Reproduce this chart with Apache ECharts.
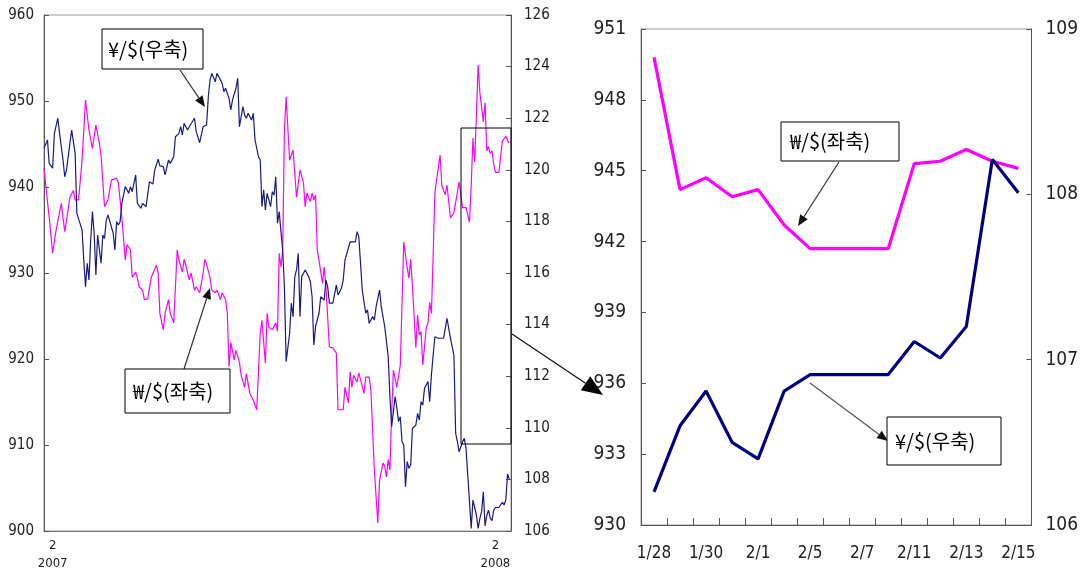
<!DOCTYPE html>
<html>
<head>
<meta charset="utf-8">
<script src="https://cdn.jsdelivr.net/npm/echarts@6/dist/echarts.min.js"></script>
<style>html,body{margin:0;padding:0;background:#fff}#c{width:1081px;height:573px}</style>
</head>
<body>
<div id="c"></div>
<script>
// ---------- Left panel: daily series Feb 2007 - mid Feb 2008 (trading-day index) ----------
const longTickDays = [5, 261];
const longTickLabels = ['2\n2007', '2\n2008'];

const krwDays = [0,2,3,5,7,8,10,11,12,13,15,17,18,20,22,24,26,27,28,30,32,33,35,37,39,42,43,45,47,48,50,51,53,54,55,57,58,60,62,63,65,66,67,69,70,72,73,75,77,78,80,81,82,84,85,87,88,90,92,93,94,96,97,99,100,102,103,105,106,107,108,110,111,113,114,116,117,119,121,123,125,126,128,129,130,132,134,135,136,137,138,139,140,142,144,145,146,148,150,151,152,154,155,156,157,158,159,161,162,163,165,167,169,170,173,174,175,176,177,178,179,181,182,183,185,186,188,189,191,192,193,194,196,197,198,199,200,201,202,204,206,208,210,211,212,213,215,216,217,218,219,221,222,223,224,225,226,227,229,230,231,232,233,235,236,237,238,240,241,242,244,246,247,248,249,250,251,252,254];
const krwValues = [942.2,938.3,936.5,932.3,935,934.8,938.1,938.3,934.8,935,938.8,939.6,938.5,938.5,943.1,950.1,946.6,946.4,944.5,947.2,945.1,943.7,937.7,938.5,940.8,941,940.5,936.5,931.5,933.3,932.7,929.5,930.1,929.4,928.4,928,926.9,927,929.5,929.5,930.9,930,925.3,923.4,925.3,926.9,925.3,924.2,932.7,931.5,930.1,931.6,930.9,929.2,930,928,928.4,927.7,930,931.6,931,929.5,928,927.7,928,926.9,927.7,926.9,925.3,919.1,921.9,919.9,921,919.6,918.1,916.7,918.3,916,915.2,914.1,923,924.5,919.5,925.3,923.7,923.4,924.2,923.2,932.3,930.7,932.7,946.6,950.5,943.1,944.3,941.6,938.8,942,940.5,937.7,939.3,938.3,939.3,938.5,939.1,932.7,931.5,928.8,930.7,928.4,921.4,921.3,920.7,914.1,914.1,916.7,916.9,914.9,918.5,916.7,918.1,917.3,918.4,917.6,916,917.9,917.9,916.4,907.1,907.1,900.9,905.9,907.9,907.5,906.3,908.3,907.1,913.7,918.7,916.7,919.3,933.6,930.6,929.4,931.6,928.6,921.3,925.1,922.8,923.2,919.3,923.6,924.2,926.6,925.3,932.1,939.4,939.4,943.7,940.2,939.6,939.1,940.2,936.4,936.4,937,937.1,940.6,939.1,937.6,937.6,935.9,940.2,945.7,942.9,948.4,954.2,951,947.6];

const jpyDays = [0,2,3,5,6,8,9,11,12,13,15,16,17,18,19,20,22,23,24,25,26,27,28,29,30,31,32,33,34,35,36,37,38,40,41,42,43,44,45,46,47,49,50,51,53,54,56,57,59,61,63,64,66,67,69,70,72,73,75,76,78,79,80,81,83,84,85,87,88,90,91,92,94,95,96,97,99,100,101,103,104,105,107,108,109,111,112,113,115,116,117,118,120,121,122,124,125,126,127,128,129,131,132,133,134,135,136,137,138,139,140,142,143,144,145,146,147,148,149,151,153,154,155,156,157,159,160,162,163,164,165,166,167,169,170,172,173,174,175,177,178,180,181,182,183,184,186,187,188,190,191,192,194,195,196,197,199,200,201,203,204,205,206,207,208,209,210,211,212,213,215,216,217,218,219,220,222,223,224,225,226,228,229,231,232,233,234,235,236,237,238,239,240,242,243,244,245,246,247,248,249,250,251,252,253,254];
const jpyValues = [120.83,121.16,120.25,120.06,121.41,122.0,121.41,120.38,119.73,119.99,121.03,121.54,121.48,120.64,118.31,118.25,117.67,116.5,115.47,116.38,115.73,117.28,118.38,117.54,115.92,117.47,117.41,116.38,117.47,117.34,118.05,118.25,118.18,117.54,116.89,117.99,117.86,117.99,118.7,118.7,119.35,119.09,119.35,119.15,119.8,118.7,118.51,118.7,118.57,119.54,119.45,119.99,120.41,120.15,120.12,119.8,120.38,120.25,120.51,121.28,121.41,121.67,121.35,121.8,121.54,121.67,121.61,122.0,121.48,121.05,121.09,121.67,121.74,122.83,123.48,123.74,123.41,123.74,123.8,123.35,123.03,123.16,122.77,122.32,122.71,123.16,123.55,121.67,122.45,122.12,122.0,122.19,121.93,122.19,121.16,120.51,120.38,118.57,119.22,118.44,119.09,118.57,119.15,119.02,119.73,117.93,118.38,117.6,116.89,115.47,112.56,113.66,114.83,114.31,115.86,116.12,116.76,114.31,115.86,116.12,115.86,115.66,115.08,113.21,113.92,114.44,115.08,114.95,115.73,115.47,114.83,114.83,114.83,115.53,115.15,115.41,115.73,116.5,116.57,117.21,117.28,117.21,117.6,117.41,116.38,115.34,114.44,114.57,114.05,114.31,114.18,114.69,115.34,114.69,114.69,113.92,112.76,111.21,110.04,111.21,110.77,110.24,110.43,109.46,109.33,107.72,108.69,108.43,108.56,109.98,110.11,110.56,110.3,111.01,110.88,111.53,111.79,111.01,112.05,112.82,113.53,113.47,113.53,113.47,113.47,114.24,114.24,113.47,113.47,112.82,109.79,109.46,109.07,109.46,109.59,109.2,108.17,107.14,106.1,107.2,107.27,106.62,106.1,106.49,106.75,107.52];

// ---------- Right panel: 2008-01-28 .. 2008-02-15 ----------
const zoomStartDay = 255;
const zoomDates = ['1/28','1/29','1/30','1/31','2/1','2/4','2/5','2/6','2/7','2/8','2/11','2/12','2/13','2/14','2/15'];
const zoomKrw = [949.8,944.2,944.7,943.9,944.2,942.7,941.7,941.7,941.7,941.7,945.3,945.4,945.9,945.4,945.1];
const zoomJpy = [106.2,106.6,106.81,106.5,106.4,106.81,106.91,106.91,106.91,106.91,107.11,107.01,107.2,108.21,108.01];

const krwLabel = '\u20A9/$(좌축)';
const jpyLabel = '\u00A5/$(우축)';

// ---------- build ----------
const krwLong = krwDays.map((d, i) => [d, krwValues[i]])
  .concat(zoomKrw.map((v, i) => [zoomStartDay + i, v]));
const jpyLong = jpyDays.map((d, i) => [d, jpyValues[i]])
  .concat(zoomJpy.map((v, i) => [zoomStartDay + i, v]));

const NUM_FONT = "'Liberation Sans Narrow','DejaVu Sans Condensed','Arial Narrow','Liberation Sans',sans-serif";
const KR_FONT = "'Noto Sans CJK KR','Noto Sans',sans-serif";
const AX = '#555';
const TXT = '#222';

function yAx(grid, pos, min, max, interval, fs, margin) {
  return {
    type: 'value', gridIndex: grid, position: pos, min: min, max: max, interval: interval,
    axisLine: { show: true, lineStyle: { color: AX, width: 1 } },
    axisTick: { show: true, inside: true, length: 5, lineStyle: { color: AX } },
    splitLine: { show: false },
    axisLabel: { fontSize: fs, margin: margin, color: TXT, fontFamily: NUM_FONT }
  };
}

function arrow(x1, y1, x2, y2, len, w, lineColor, headColor) {
  const a = Math.atan2(y2 - y1, x2 - x1);
  const bx = x2 - len * Math.cos(a), by = y2 - len * Math.sin(a);
  const px = -Math.sin(a) * w / 2, py = Math.cos(a) * w / 2;
  return [
    { type: 'line', z: 100, shape: { x1: x1, y1: y1, x2: bx, y2: by }, style: { stroke: lineColor, lineWidth: 1.2 } },
    { type: 'polygon', z: 100, shape: { points: [[x2, y2], [bx + px, by + py], [bx - px, by - py]] }, style: { fill: headColor } }
  ];
}

function labelBox(x, y, w, h, tx, text) {
  return [
    { type: 'rect', z: 100, shape: { x: x, y: y, width: w, height: h }, style: { fill: '#fff', stroke: '#000', lineWidth: 1 } },
    { type: 'text', z: 101, x: tx, y: y + h / 2, style: { text: text, fill: '#000', font: '20px ' + KR_FONT, textVerticalAlign: 'middle', textAlign: 'left' } }
  ];
}

const graphics = [].concat(
  arrow(180, 70, 205, 107, 11, 9, '#333', '#111'),
  labelBox(102, 29, 101, 40, 108, jpyLabel),
  arrow(184, 369, 210, 288, 11, 9, '#333', '#111'),
  labelBox(125, 369, 105, 44, 133, krwLabel),
  [{ type: 'rect', z: 100, shape: { x: 461, y: 128, width: 50, height: 316 }, style: { fill: 'none', stroke: '#000', lineWidth: 1 } }],
  arrow(512, 334, 603, 395, 21, 17, '#111', '#000'),
  arrow(839, 162, 798, 226, 11, 9, '#333', '#111'),
  labelBox(781, 122, 118, 39, 790, krwLabel),
  arrow(810, 383, 888, 441, 11, 9, '#555', '#111'),
  labelBox(887, 417, 114, 48, 895, jpyLabel)
);

const option = {
  animation: false,
  backgroundColor: '#fff',
  grid: [
    { left: 44, top: 15, width: 467, height: 516, show: true, borderColor: '#9a9a9a', borderWidth: 1, containLabel: false },
    { left: 641, top: 29, width: 399, height: 496, show: true, borderColor: '#9a9a9a', borderWidth: 1, containLabel: false }
  ],
  xAxis: [
    {
      type: 'value', gridIndex: 0, min: 0, max: 270,
      splitLine: { show: false },
      axisLine: { show: true, lineStyle: { color: '#777' } },
      axisTick: { show: false },
      axisLabel: {
        customValues: longTickDays,
        formatter: function (v) { const i = longTickDays.indexOf(v); return i >= 0 ? longTickLabels[i] : ''; },
        fontSize: 13, lineHeight: 18, color: TXT, margin: 6, fontFamily: NUM_FONT
      }
    },
    {
      type: 'category', gridIndex: 1, data: zoomDates, boundaryGap: true,
      axisLine: { show: true, lineStyle: { color: AX } },
      axisTick: { show: true, inside: true, length: 7, interval: 0, lineStyle: { color: AX } },
      axisLabel: { interval: 1, fontSize: 17, color: TXT, margin: 20, fontFamily: NUM_FONT },
      splitLine: { show: false }
    }
  ],
  yAxis: [
    yAx(0, 'left', 900, 960, 10, 15, 10),
    yAx(0, 'right', 106, 126, 2, 15, 13),
    yAx(1, 'left', 930, 951, 3, 19, 15),
    yAx(1, 'right', 106, 109, 1, 19, 14)
  ],
  series: [
    { type: 'line', xAxisIndex: 0, yAxisIndex: 0, data: krwLong, showSymbol: false, lineStyle: { color: '#ff00ff', width: 1.2 }, itemStyle: { color: '#ff00ff' }, z: 2 },
    { type: 'line', xAxisIndex: 0, yAxisIndex: 1, data: jpyLong, showSymbol: false, lineStyle: { color: '#1a1a85', width: 1.2 }, itemStyle: { color: '#1a1a85' }, z: 3 },
    { type: 'line', xAxisIndex: 1, yAxisIndex: 2, data: zoomKrw, showSymbol: false, lineStyle: { color: '#ff00ff', width: 3.2 }, itemStyle: { color: '#ff00ff' }, z: 2 },
    { type: 'line', xAxisIndex: 1, yAxisIndex: 3, data: zoomJpy, showSymbol: false, lineStyle: { color: '#000080', width: 3.2 }, itemStyle: { color: '#000080' }, z: 3 }
  ],
  graphic: graphics
};

const chart = echarts.init(document.getElementById('c'), null, { renderer: 'canvas' });
chart.setOption(option);
</script>
</body>
</html>
